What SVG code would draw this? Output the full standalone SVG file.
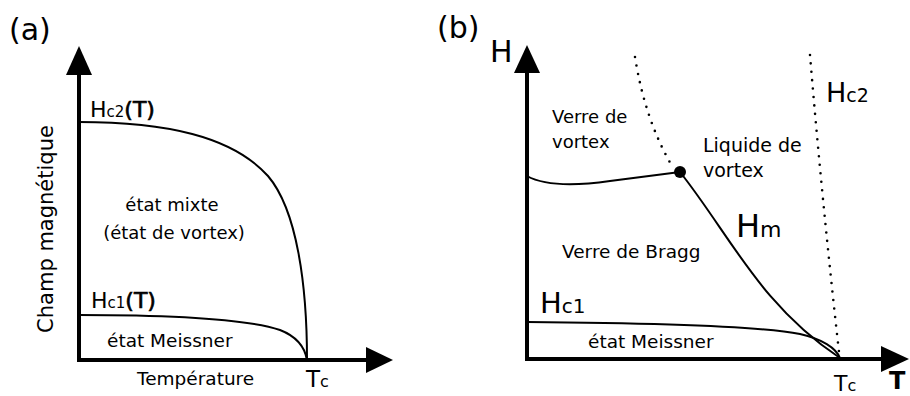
<svg xmlns="http://www.w3.org/2000/svg" width="910" height="396" viewBox="0 0 910 396">
<style>
text{font-family:"DejaVu Sans","Liberation Sans",sans-serif;fill:#000}
.ax{stroke:#000;stroke-width:4;fill:none}
.cv{stroke:#000;stroke-width:2;fill:none}
.dot{stroke:#000;stroke-width:2.6;fill:none;stroke-dasharray:0 8.5;stroke-linecap:round}
.lbl{font-size:18.5px}
.hv{stroke:#000;stroke-width:0.7}
</style>
<rect width="910" height="396" fill="#fff"/>
<g id="panel-a">
  <text x="9" y="40" font-size="30">(a)</text>
  <g id="axes-a">
    <line class="ax" x1="79" y1="362" x2="79" y2="72"/>
    <polygon points="79,46 66,75 92,75"/>
    <line class="ax" x1="77" y1="360" x2="370" y2="360"/>
    <polygon points="393,360 366,347 366,373"/>
  </g>
  <g id="connectors-a">
    <path class="cv" d="M79,122 C165,122 232,136 268,176 C297,210 307,285 307,360"/>
    <path class="cv" d="M79,315 C180,315 250,320 280,330 C298,337 305,348 307,360"/>
  </g>
  <g id="hc2-a"><text x="90" y="117" font-size="22">H<tspan font-size="15">c2</tspan><tspan class="hv">(T)</tspan></text></g>
  <g id="mixte-a"><text x="172" y="211" text-anchor="middle" font-size="18">état mixte</text>
  <text x="174" y="239" text-anchor="middle" font-size="18">(état de vortex)</text></g>
  <g id="hc1-a"><text x="91" y="308" font-size="22">H<tspan font-size="15">c1</tspan><tspan class="hv">(T)</tspan></text></g>
  <g id="meissner-a"><text class="lbl" x="107" y="347">état Meissner</text></g>
  <g id="temp-a"><text class="lbl" x="137" y="385">Température</text></g>
  <g id="tc-a"><text x="306" y="387" font-size="23">T<tspan font-size="16">c</tspan></text></g>
  <g id="champ-a"><text transform="translate(53,229) rotate(-90)" text-anchor="middle" font-size="21">Champ magnétique</text></g>
</g>
<g id="panel-b">
  <text x="437" y="38" font-size="30">(b)</text>
  <g id="axes-b">
    <line class="ax" x1="527" y1="361" x2="527" y2="70"/>
    <polygon points="527,45 514,73 540,73"/>
    <line class="ax" x1="525" y1="359" x2="885" y2="359"/>
    <polygon points="909,359 881,346 881,372"/>
  </g>
  <g id="connectors-b">
    <path class="dot" d="M635,57 Q645,120 672,166"/>
    <path class="dot" d="M810,55 Q822,200 839,352"/>
    <path class="cv" d="M527,176 C545,186 575,186 610,181 C640,177 665,174 680,172"/>
    <path class="cv" d="M680,172 C730,235 760,305 840,358"/>
    <path class="cv" d="M527,322 C650,323 760,326 800,334 C822,339 836,348 840,358"/>
    <circle cx="680" cy="172" r="6"/>
  </g>
  <g id="h-b"><text x="490" y="62" font-size="30">H</text></g>
  <g id="verre-vortex-b"><text x="552" y="123" font-size="18">Verre de</text><text x="552" y="148" font-size="18">vortex</text></g>
  <g id="liquide-b"><text x="703" y="152" font-size="19">Liquide de</text><text x="703" y="177" font-size="19">vortex</text></g>
  <g id="hc2-b"><text x="826" y="102" font-size="27">H<tspan font-size="19">c2</tspan></text></g>
  <g id="hm-b"><text x="736" y="237" font-size="32">H<tspan font-size="22">m</tspan></text></g>
  <g id="bragg-b"><text class="lbl" x="562" y="258">Verre de Bragg</text></g>
  <g id="hc1-b"><text x="540" y="313" font-size="29">H<tspan font-size="20">c1</tspan></text></g>
  <g id="meissner-b"><text class="lbl" x="588" y="348">état Meissner</text></g>
  <g id="tc-b"><text x="834" y="391" font-size="22">T<tspan font-size="16">c</tspan></text></g>
  <g id="t-b"><text x="889" y="389" font-size="24" font-weight="bold">T</text></g>
</g>
</svg>
